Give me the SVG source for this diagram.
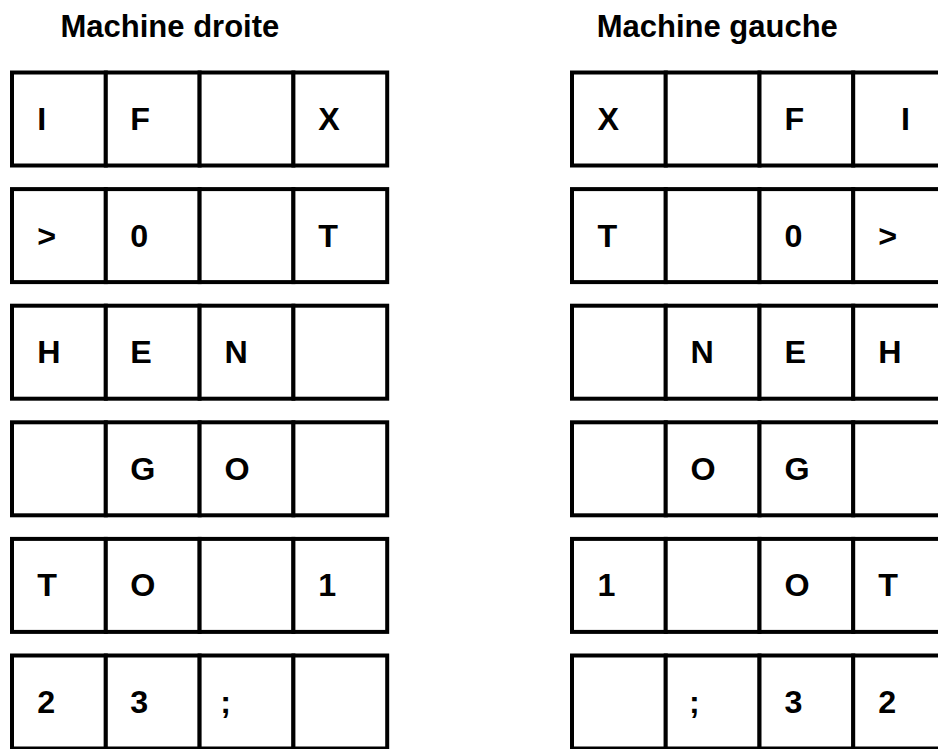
<svg xmlns="http://www.w3.org/2000/svg" width="938" height="749" viewBox="0 0 938 749">
<style>
.c{fill:#fff;stroke:#000;stroke-width:4}
.t{font-family:"Liberation Sans",Arial,sans-serif;font-weight:bold;font-size:31px;fill:#000}
.h{font-family:"Liberation Sans",Arial,sans-serif;font-weight:bold;font-size:31px;fill:#000}
</style>
<rect width="938" height="749" fill="#fff"/>
<g id="titles">
<text class="h" x="60.5" y="36.5">Machine droite</text>
<text class="h" x="596.7" y="36.5">Machine gauche</text>
</g>
<g id="machine-droite">
<g id="d-r1"><rect class="c" x="12" y="72.5" width="93.8" height="93"/><rect class="c" x="105.8" y="72.5" width="93.8" height="93"/><rect class="c" x="199.6" y="72.5" width="93.8" height="93"/><rect class="c" x="293.4" y="72.5" width="93.8" height="93"/>
<text class="t" transform="translate(37.3,130) scale(1.04 1)">I</text><text class="t" transform="translate(130.3,130) scale(1.04 1)">F</text><text class="t" transform="translate(318.2,130) scale(1.04 1)">X</text></g>
<g id="d-r2"><rect class="c" x="12" y="189.1" width="93.8" height="93"/><rect class="c" x="105.8" y="189.1" width="93.8" height="93"/><rect class="c" x="199.6" y="189.1" width="93.8" height="93"/><rect class="c" x="293.4" y="189.1" width="93.8" height="93"/>
<text class="t" transform="translate(37.3,246.6) scale(1.04 1)">&gt;</text><text class="t" transform="translate(130.3,246.6) scale(1.04 1)">0</text><text class="t" transform="translate(318.2,246.6) scale(1.04 1)">T</text></g>
<g id="d-r3"><rect class="c" x="12" y="305.7" width="93.8" height="93"/><rect class="c" x="105.8" y="305.7" width="93.8" height="93"/><rect class="c" x="199.6" y="305.7" width="93.8" height="93"/><rect class="c" x="293.4" y="305.7" width="93.8" height="93"/>
<text class="t" transform="translate(37.3,363.2) scale(1.04 1)">H</text><text class="t" transform="translate(130.3,363.2) scale(1.04 1)">E</text><text class="t" transform="translate(224.4,363.2) scale(1.04 1)">N</text></g>
<g id="d-r4"><rect class="c" x="12" y="422.3" width="93.8" height="93"/><rect class="c" x="105.8" y="422.3" width="93.8" height="93"/><rect class="c" x="199.6" y="422.3" width="93.8" height="93"/><rect class="c" x="293.4" y="422.3" width="93.8" height="93"/>
<text class="t" transform="translate(130.3,479.8) scale(1.04 1)">G</text><text class="t" transform="translate(224.4,479.8) scale(1.04 1)">O</text></g>
<g id="d-r5"><rect class="c" x="12" y="538.9" width="93.8" height="93"/><rect class="c" x="105.8" y="538.9" width="93.8" height="93"/><rect class="c" x="199.6" y="538.9" width="93.8" height="93"/><rect class="c" x="293.4" y="538.9" width="93.8" height="93"/>
<text class="t" transform="translate(37.3,596.4) scale(1.04 1)">T</text><text class="t" transform="translate(130.3,596.4) scale(1.04 1)">O</text><text class="t" transform="translate(318.2,596.4) scale(1.04 1)">1</text></g>
<g id="d-r6"><rect class="c" x="12" y="655.5" width="93.8" height="93"/><rect class="c" x="105.8" y="655.5" width="93.8" height="93"/><rect class="c" x="199.6" y="655.5" width="93.8" height="93"/><rect class="c" x="293.4" y="655.5" width="93.8" height="93"/>
<text class="t" transform="translate(37.3,713) scale(1.04 1)">2</text><text class="t" transform="translate(130.3,713) scale(1.04 1)">3</text><text class="t" transform="translate(220.3,713) scale(1.04 1)">;</text></g>
</g>
<g id="machine-gauche">
<g id="g-r1"><rect class="c" x="572" y="72.5" width="93.8" height="93"/><rect class="c" x="665.7" y="72.5" width="93.8" height="93"/><rect class="c" x="759.5" y="72.5" width="93.8" height="93"/><rect class="c" x="853.2" y="72.5" width="93.8" height="93"/>
<text class="t" transform="translate(597.5,130) scale(1.04 1)">X</text><text class="t" transform="translate(784.4,130) scale(1.04 1)">F</text><text class="t" transform="translate(901,130) scale(1.04 1)">I</text></g>
<g id="g-r2"><rect class="c" x="572" y="189.1" width="93.8" height="93"/><rect class="c" x="665.7" y="189.1" width="93.8" height="93"/><rect class="c" x="759.5" y="189.1" width="93.8" height="93"/><rect class="c" x="853.2" y="189.1" width="93.8" height="93"/>
<text class="t" transform="translate(597.5,246.6) scale(1.04 1)">T</text><text class="t" transform="translate(784.4,246.6) scale(1.04 1)">0</text><text class="t" transform="translate(878.2,246.6) scale(1.04 1)">&gt;</text></g>
<g id="g-r3"><rect class="c" x="572" y="305.7" width="93.8" height="93"/><rect class="c" x="665.7" y="305.7" width="93.8" height="93"/><rect class="c" x="759.5" y="305.7" width="93.8" height="93"/><rect class="c" x="853.2" y="305.7" width="93.8" height="93"/>
<text class="t" transform="translate(690.5,363.2) scale(1.04 1)">N</text><text class="t" transform="translate(784.4,363.2) scale(1.04 1)">E</text><text class="t" transform="translate(878.2,363.2) scale(1.04 1)">H</text></g>
<g id="g-r4"><rect class="c" x="572" y="422.3" width="93.8" height="93"/><rect class="c" x="665.7" y="422.3" width="93.8" height="93"/><rect class="c" x="759.5" y="422.3" width="93.8" height="93"/><rect class="c" x="853.2" y="422.3" width="93.8" height="93"/>
<text class="t" transform="translate(690.5,479.8) scale(1.04 1)">O</text><text class="t" transform="translate(784.4,479.8) scale(1.04 1)">G</text></g>
<g id="g-r5"><rect class="c" x="572" y="538.9" width="93.8" height="93"/><rect class="c" x="665.7" y="538.9" width="93.8" height="93"/><rect class="c" x="759.5" y="538.9" width="93.8" height="93"/><rect class="c" x="853.2" y="538.9" width="93.8" height="93"/>
<text class="t" transform="translate(597.5,596.4) scale(1.04 1)">1</text><text class="t" transform="translate(784.4,596.4) scale(1.04 1)">O</text><text class="t" transform="translate(878.2,596.4) scale(1.04 1)">T</text></g>
<g id="g-r6"><rect class="c" x="572" y="655.5" width="93.8" height="93"/><rect class="c" x="665.7" y="655.5" width="93.8" height="93"/><rect class="c" x="759.5" y="655.5" width="93.8" height="93"/><rect class="c" x="853.2" y="655.5" width="93.8" height="93"/>
<text class="t" transform="translate(689,713) scale(1.04 1)">;</text><text class="t" transform="translate(784.4,713) scale(1.04 1)">3</text><text class="t" transform="translate(878.2,713) scale(1.04 1)">2</text></g>
</g>
<g id="connectors"/>
</svg>
